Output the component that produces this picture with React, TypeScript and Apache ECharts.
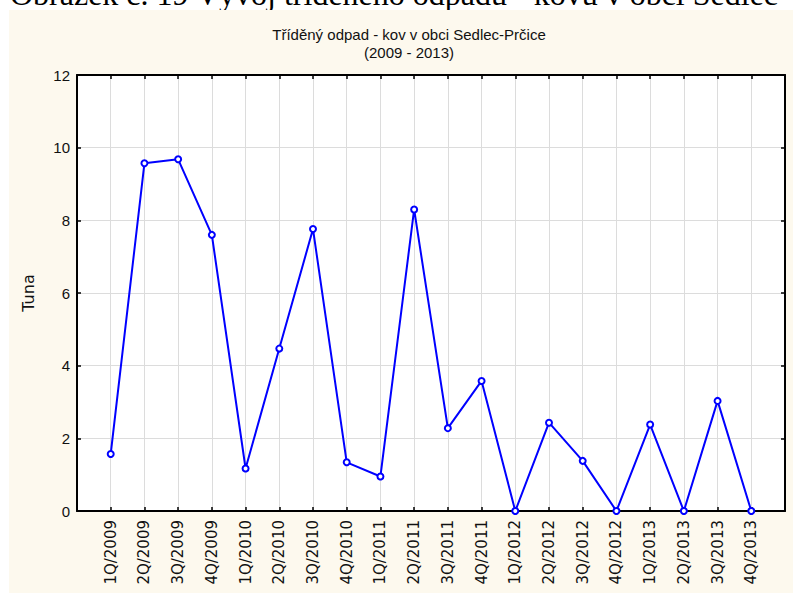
import React, { useEffect, useRef } from 'react';
import * as echarts from 'echarts';

const categories = [
  '1Q/2009', '2Q/2009', '3Q/2009', '4Q/2009',
  '1Q/2010', '2Q/2010', '3Q/2010', '4Q/2010',
  '1Q/2011', '2Q/2011', '3Q/2011', '4Q/2011',
  '1Q/2012', '2Q/2012', '3Q/2012', '4Q/2012',
  '1Q/2013', '2Q/2013', '3Q/2013', '4Q/2013',
];
const tonnes = [
  1.57, 9.57, 9.68, 7.6,
  1.17, 4.47, 7.76, 1.34,
  0.95, 8.3, 2.28, 3.58,
  0, 2.43, 1.38, 0,
  2.38, 0, 3.03, 0,
];
const yMin = 0;
const yMax = 12;
const yStep = 2;
const titleLines = ['Tříděný odpad - kov v obci Sedlec-Prčice', '(2009 - 2013)'];
const captionText = 'Obrázek č. 19 Vývoj tříděného odpadu - kovu v obci Sedlec';
const yAxisName = 'Tuna';

export default function App() {
  const ref = useRef<HTMLDivElement>(null);
  useEffect(() => {
    if (!ref.current) return;
    const chart = echarts.init(ref.current, undefined, { renderer: 'svg' });
    const tickStyle = { show: true, inside: true, length: 4, lineStyle: { color: '#000', width: 1.5 } };
    const axisLine = { show: true, onZero: false, lineStyle: { color: '#000', width: 2 } };
    const gridLine = { show: true, lineStyle: { color: '#dcdcdc', width: 1 } };
    chart.setOption({
      animation: false,
      backgroundColor: '#ffffff',
      graphic: [
        {
          type: 'text',
          x: 394,
          y: 10,
          z: 0,
          style: {
            text: captionText,
            font: '32px "Liberation Serif", serif',
            fill: '#000',
            textAlign: 'center',
            textVerticalAlign: 'bottom',
          },
        },
        {
          type: 'rect',
          z: 1,
          shape: { x: 9, y: 10, width: 784, height: 583 },
          style: { fill: '#fdf9ee' },
        },
        {
          type: 'text',
          x: 409,
          y: 34,
          z: 2,
          style: {
            text: titleLines[0],
            font: '15px "Liberation Sans", Arial, sans-serif',
            fill: '#111',
            textAlign: 'center',
            textVerticalAlign: 'middle',
          },
        },
        {
          type: 'text',
          x: 409,
          y: 52,
          z: 2,
          style: {
            text: titleLines[1],
            font: '15px "Liberation Sans", Arial, sans-serif',
            fill: '#111',
            textAlign: 'center',
            textVerticalAlign: 'middle',
          },
        },
        {
          type: 'text',
          x: 28,
          y: 293,
          z: 2,
          rotation: Math.PI / 2,
          style: {
            text: yAxisName,
            font: '16px "DejaVu Sans", sans-serif',
            fill: '#111',
            textAlign: 'center',
            textVerticalAlign: 'middle',
          },
        },
      ],
      grid: {
        left: 77,
        top: 75,
        right: 8,
        bottom: 82,
        show: true,
        backgroundColor: '#ffffff',
        borderWidth: 0,
        z: 2,
      },
      xAxis: [
        {
          type: 'value',
          min: -1,
          max: categories.length,
          interval: 1,
          position: 'bottom',
          z: 3,
          axisLine,
          axisTick: tickStyle,
          splitLine: gridLine,
          axisLabel: {
            rotate: 90,
            margin: 9,
            color: '#111',
            fontFamily: '"DejaVu Sans", sans-serif',
            fontSize: 15,
            formatter: (v: number) => categories[v] ?? '',
          },
        },
        {
          type: 'value',
          min: -1,
          max: categories.length,
          interval: 1,
          position: 'top',
          z: 3,
          axisLine,
          axisTick: tickStyle,
          splitLine: { show: false },
          axisLabel: { show: false },
        },
      ],
      yAxis: [
        {
          type: 'value',
          min: yMin,
          max: yMax,
          interval: yStep,
          position: 'left',
          z: 3,
          axisLine,
          axisTick: tickStyle,
          splitLine: gridLine,
          axisLabel: {
            margin: 7,
            color: '#111',
            fontFamily: '"Liberation Sans", Arial, sans-serif',
            fontSize: 15,
          },
        },
        {
          type: 'value',
          min: yMin,
          max: yMax,
          interval: yStep,
          position: 'right',
          z: 3,
          axisLine,
          axisTick: tickStyle,
          splitLine: { show: false },
          axisLabel: { show: false },
        },
      ],
      series: [
        {
          type: 'line',
          xAxisIndex: 0,
          yAxisIndex: 0,
          data: tonnes.map((v, i) => [i, v]),
          clip: false,
          symbol: 'emptyCircle',
          symbolSize: 6,
          showAllSymbol: true,
          lineStyle: { color: '#0000ff', width: 2 },
          itemStyle: { color: '#0000ff', borderColor: '#0000ff', borderWidth: 1.8 },
          z: 5,
        },
      ],
    });
    return () => chart.dispose();
  }, []);
  return (
    <div
      ref={ref}
      style={{ position: 'absolute', left: 0, top: 0, width: 793, height: 593 }}
    />
  );
}
